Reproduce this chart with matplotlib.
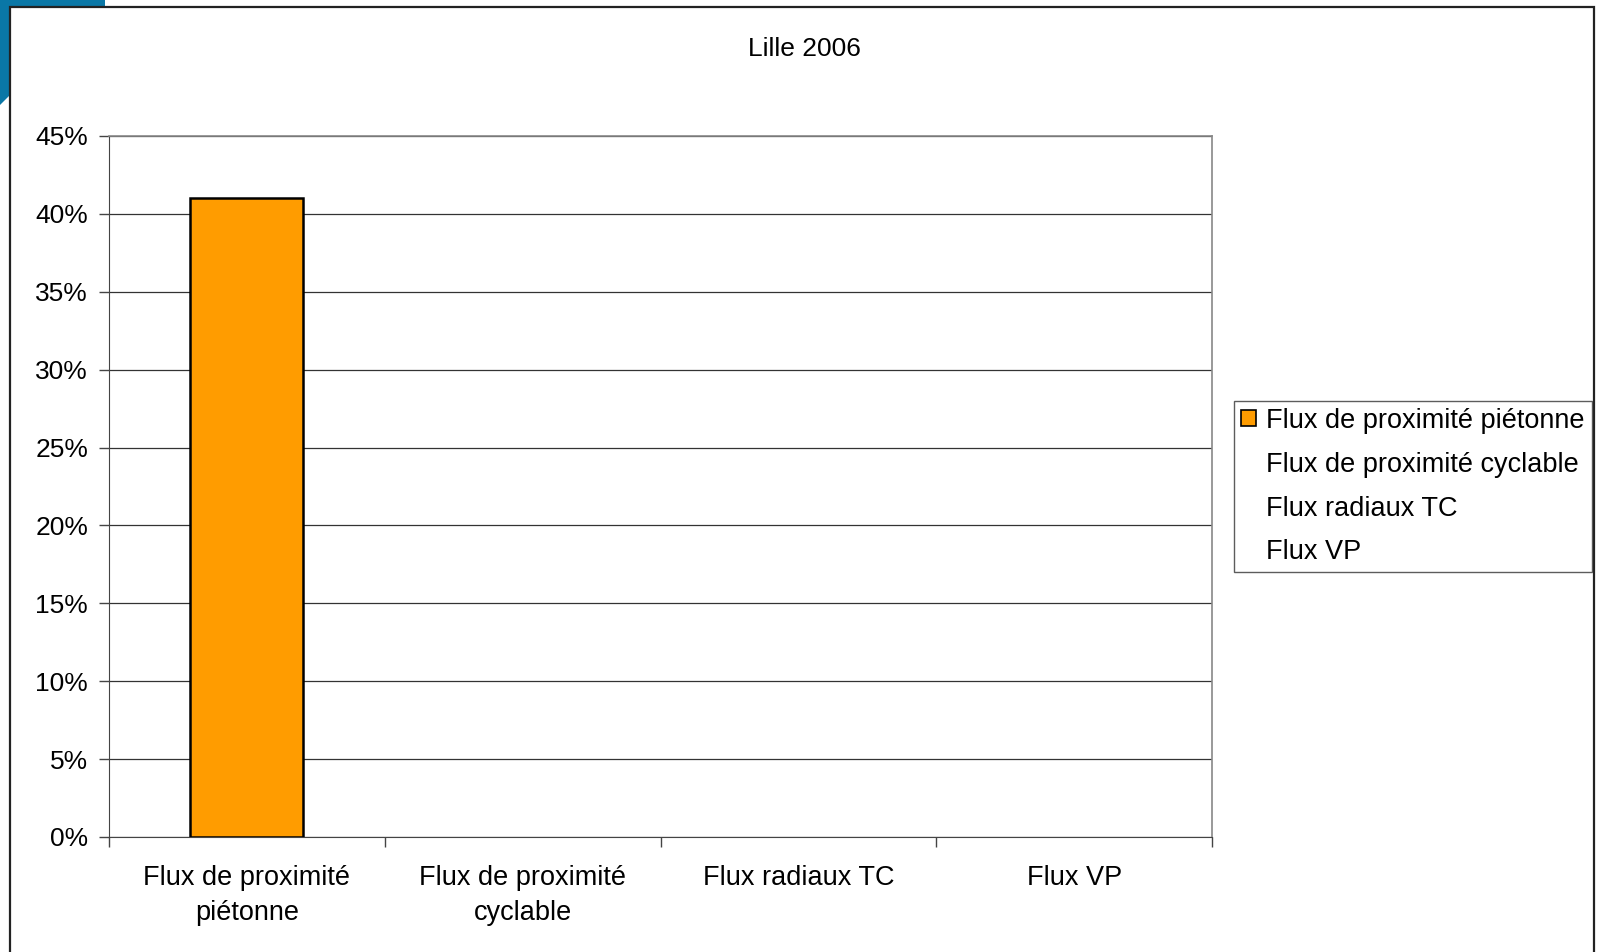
import matplotlib
matplotlib.use("Agg")
import matplotlib.pyplot as plt
from matplotlib.patches import Patch, Polygon, Rectangle
from matplotlib.ticker import FuncFormatter, MultipleLocator

categories = ["Flux de proximité\npiétonne", "Flux de proximité\ncyclable", "Flux radiaux TC", "Flux VP"]
legend_labels = ["Flux de proximité piétonne", "Flux de proximité cyclable", "Flux radiaux TC", "Flux VP"]
values = [41, 0, 0, 0]
title = "Lille 2006"

plt.rcParams['font.family'] = ['Liberation Sans', 'DejaVu Sans']

W, H = 1600, 952
fig = plt.figure(figsize=(16, 9.52), dpi=100)

# blue decoration top-left
fig.patches.append(Polygon([(0, 1), (105 / W, 1), (105 / W, 1 - 8 / H), (10 / W, 1 - 95 / H), (0, 1 - 105 / H)],
                           closed=True, transform=fig.transFigure, facecolor="#0a77a6", edgecolor="none", zorder=0))
# figure frame
fig.patches.append(Rectangle((10 / W, -0.05), (1594 - 10) / W, 1 - 7 / H + 0.05, transform=fig.transFigure,
                             facecolor="white", edgecolor="#222222", linewidth=1.6, zorder=1))

ax = fig.add_axes([109 / W, 1 - 837 / H, (1212 - 109) / W, (837 - 136) / H])
ax.set_zorder(2)
ax.patch.set_alpha(0)

x = list(range(len(categories)))
lws = [1.8 if v > 0 else 0 for v in values]
ax.bar(x, values, width=0.41, color="#ff9c00", edgecolor="black", linewidth=lws, zorder=3)

ax.set_xlim(-0.5, 3.5)
ax.set_ylim(0, 45)
ax.yaxis.set_major_locator(MultipleLocator(5))
ax.yaxis.set_major_formatter(FuncFormatter(lambda v, p: f"{int(round(v))}%"))
ax.grid(axis="y", color="#333333", linewidth=0.9, zorder=1)

ax.set_xticks([i + 0.5 for i in range(-1, 4)])
ax.set_xticklabels([])
ax.set_xticks(x, minor=True)
ax.set_xticklabels(categories, minor=True, fontsize=19.5, linespacing=1.45)
ax.tick_params(axis="x", which="minor", length=0, pad=20)
ax.tick_params(axis="x", which="major", length=7, width=1, color="#444444", direction="out")
ax.tick_params(axis="y", length=7, width=1, color="#444444", labelsize=19, pad=8)

for s in ["top", "right"]:
    ax.spines[s].set_color("#888888")
    ax.spines[s].set_linewidth(1.2)
ax.spines["left"].set_color("#444444")
ax.spines["bottom"].set_color("#444444")

fig.text(0.5 * (109 + 1500) / W, 1 - 49 / H, title, ha="center", va="center", fontsize=19, zorder=5)

handles = [Patch(facecolor="#ff9c00", edgecolor="black", linewidth=1.2)] + \
          [Patch(facecolor="none", edgecolor="none") for _ in range(3)]
leg = fig.legend(handles, legend_labels, loc="upper left", bbox_to_anchor=(1234 / W, 1 - 401 / H),
                 fontsize=19.5, frameon=True, fancybox=False, edgecolor="#333333",
                 handlelength=0.55, handleheight=0.55, handletextpad=0.4, borderpad=0.25,
                 labelspacing=0.66, borderaxespad=0)
leg.get_frame().set_linewidth(1.0)
leg.set_zorder(6)

fig.savefig("out.png", dpi=100, facecolor="white")
